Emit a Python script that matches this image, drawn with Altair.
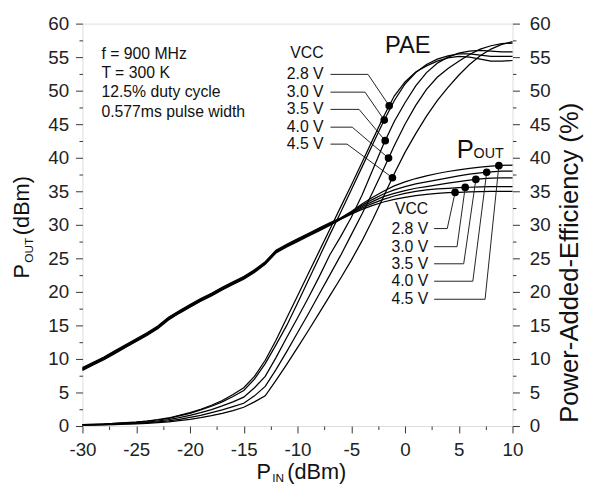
import altair as alt
import numpy as np
import pandas as pd

FONT = "Liberation Sans"

# ---------------- data ----------------
P_IN = list(range(-30, 11))
VCC = ["2.8 V", "3.0 V", "3.5 V", "4.0 V", "4.5 V"]

# P_OUT (dBm), linear part from -30 to -6 dBm (the five curves nearly coincide)
POUT_LIN_28 = [8.3, 9.1, 9.9, 10.8, 11.7, 12.6, 13.5, 14.5, 15.8, 16.8, 17.7, 18.6, 19.4,
               20.3, 21.1, 21.9, 22.9, 24.1, 25.8, 26.7, 27.5, 28.3, 29.1, 29.9, 30.8]
POUT_LIN_30 = [8.4, 9.2, 10.0, 10.9, 11.8, 12.7, 13.6, 14.6, 15.9, 16.9, 17.8, 18.7, 19.5,
               20.4, 21.2, 22.0, 23.0, 24.2, 25.9, 26.8, 27.6, 28.4, 29.2, 30.0, 30.85]
POUT_LIN_35 = [8.5, 9.3, 10.1, 11.0, 11.9, 12.8, 13.7, 14.7, 16.0, 17.0, 17.9, 18.8, 19.6,
               20.5, 21.3, 22.1, 23.1, 24.3, 26.0, 26.9, 27.7, 28.5, 29.3, 30.1, 30.9]
POUT_LIN_40 = [8.6, 9.4, 10.2, 11.1, 12.0, 12.9, 13.8, 14.8, 16.1, 17.1, 18.0, 18.9, 19.7,
               20.6, 21.4, 22.2, 23.2, 24.4, 26.1, 27.0, 27.8, 28.6, 29.4, 30.2, 30.95]
POUT_LIN_45 = [8.7, 9.5, 10.3, 11.2, 12.1, 13.0, 13.9, 14.9, 16.2, 17.2, 18.1, 19.0, 19.8,
               20.7, 21.5, 22.3, 23.3, 24.5, 26.2, 27.1, 27.9, 28.7, 29.5, 30.3, 31.0]
# P_OUT (dBm), compression part from -5 to 10 dBm
POUT_SAT_28 = [31.6, 32.3, 32.9, 33.4, 33.8, 34.1, 34.35, 34.55, 34.7, 34.8, 34.85, 34.9, 34.95, 35.0, 35.0, 35.0]
POUT_SAT_30 = [31.7, 32.5, 33.2, 33.8, 34.3, 34.7, 35.0, 35.2, 35.35, 35.45, 35.55, 35.6, 35.65, 35.7, 35.7, 35.7]
POUT_SAT_35 = [31.8, 32.7, 33.5, 34.2, 34.7, 35.1, 35.45, 35.7, 35.95, 36.2, 36.45, 36.65, 36.85, 36.95, 37.0, 37.0]
POUT_SAT_40 = [31.9, 32.9, 33.8, 34.6, 35.2, 35.7, 36.1, 36.4, 36.7, 37.0, 37.3, 37.55, 37.75, 37.9, 38.0, 38.0]
POUT_SAT_45 = [32.0, 33.1, 34.1, 35.0, 35.8, 36.4, 36.9, 37.3, 37.65, 37.95, 38.2, 38.4, 38.6, 38.75, 38.85, 38.9]

# PAE (%) from -30 to 10 dBm
PAE_28 = [0.2, 0.25, 0.3, 0.4, 0.5, 0.6, 0.75, 0.95, 1.2, 1.6, 2.0, 2.5, 3.1, 3.8, 4.7, 5.7, 7.4,
          9.8, 12.8, 16.1, 19.4, 22.7, 26.0, 29.3, 32.6, 35.9, 39.3, 42.7, 46.1, 49.2, 51.3,
          52.8, 53.7, 54.4, 54.9, 55.1, 55.0, 54.7, 54.4, 54.4, 54.5]
PAE_30 = [0.2, 0.25, 0.3, 0.38, 0.48, 0.58, 0.72, 0.9, 1.15, 1.5, 1.9, 2.4, 2.95, 3.6, 4.4, 5.3, 7.0,
          9.3, 12.1, 15.0, 18.3, 21.7, 25.1, 28.5, 31.8, 35.2, 38.6, 42.0, 45.4, 48.5, 51.0,
          52.7, 53.9, 54.7, 55.2, 55.5, 55.5, 55.3, 55.1, 55.1, 55.1]
PAE_35 = [0.18, 0.22, 0.27, 0.33, 0.4, 0.5, 0.6, 0.75, 0.95, 1.25, 1.6, 2.0, 2.45, 3.0, 3.6, 4.3, 5.7,
          7.4, 10.2, 13.2, 16.1, 19.1, 22.2, 25.5, 28.2, 31.1, 34.4, 38.2, 42.0, 45.4, 48.2,
          50.7, 52.7, 54.1, 55.0, 55.6, 55.9, 56.0, 55.9, 55.8, 55.8]
PAE_40 = [0.15, 0.18, 0.22, 0.27, 0.33, 0.4, 0.5, 0.62, 0.78, 1.0, 1.3, 1.6, 2.0, 2.4, 2.9, 3.4, 4.5,
          5.9, 8.4, 11.1, 13.9, 16.7, 19.6, 22.5, 25.4, 28.5, 31.6, 34.9, 38.3, 41.8, 45.0,
          47.8, 50.2, 52.0, 53.3, 54.4, 55.4, 56.2, 56.7, 57.0, 57.1]
PAE_45 = [0.12, 0.15, 0.18, 0.22, 0.27, 0.33, 0.4, 0.5, 0.63, 0.8, 1.0, 1.25, 1.55, 1.9, 2.3, 2.8, 3.6,
          4.5, 6.8, 9.2, 11.7, 14.2, 16.8, 19.4, 22.0, 24.7, 27.6, 30.8, 34.2, 37.6, 40.8,
          43.6, 46.2, 48.5, 50.5, 52.3, 53.9, 55.2, 56.2, 56.9, 57.3]

# marker positions (P_IN, dBm) on each curve
PAE_DOT_X = [-1.47, -1.93, -1.84, -1.53, -1.17]
POUT_DOT_X = [4.66, 5.6, 6.59, 7.6, 8.73]

INFO = ["f = 900 MHz", "T = 300 K", "12.5% duty cycle", "0.577ms pulse width"]

# ---------------- annotation layout (data units) ----------------
INFO_X = -28.24
INFO_Y = [55.44, 52.57, 49.85, 46.84]

TOP_LABEL_X = -7.57
TOP_VCC_Y = 55.66
TOP_LABEL_Y = [52.43, 49.78, 47.21, 44.56, 42.03]
TOP_LEAD_X0 = -6.93
TOP_BEND_X = [-3.44, -3.72, -4.27, -4.91, -5.39]

BOT_LABEL_X = 2.16
BOT_VCC_Y = 32.28
BOT_LABEL_Y = [29.44, 26.74, 24.19, 21.59, 18.90]
BOT_LEAD_X0 = 2.71
BOT_BEND_X = [3.93, 4.84, 5.46, 6.31, 7.45]

# ---------------- tables ----------------
pout_curves = [POUT_LIN_28 + POUT_SAT_28, POUT_LIN_30 + POUT_SAT_30, POUT_LIN_35 + POUT_SAT_35,
               POUT_LIN_40 + POUT_SAT_40, POUT_LIN_45 + POUT_SAT_45]
pae_curves = [PAE_28, PAE_30, PAE_35, PAE_40, PAE_45]


def long_table(curves):
    rows = []
    for v, c in zip(VCC, curves):
        for p, val in zip(P_IN, c):
            rows.append({"pin": p, "val": val, "vcc": v})
    return pd.DataFrame(rows)


pout_df = long_table(pout_curves)
pae_df = long_table(pae_curves)

pae_dots = pd.DataFrame({
    "pin": PAE_DOT_X,
    "val": [float(np.interp(x, P_IN, c)) for x, c in zip(PAE_DOT_X, pae_curves)],
})
pout_dots = pd.DataFrame({
    "pin": POUT_DOT_X,
    "val": [float(np.interp(x, P_IN, c)) for x, c in zip(POUT_DOT_X, pout_curves)],
})

lead_rows = []
for i, v in enumerate(VCC):
    pts = [(TOP_LEAD_X0, TOP_LABEL_Y[i]), (TOP_BEND_X[i], TOP_LABEL_Y[i]),
           (pae_dots.pin[i], pae_dots.val[i])]
    for k, (x, y) in enumerate(pts):
        lead_rows.append({"g": "pae" + v, "k": k, "pin": x, "val": y})
    pts = [(BOT_LEAD_X0, BOT_LABEL_Y[i]), (BOT_BEND_X[i], BOT_LABEL_Y[i]),
           (pout_dots.pin[i], pout_dots.val[i])]
    for k, (x, y) in enumerate(pts):
        lead_rows.append({"g": "pout" + v, "k": k, "pin": x, "val": y})
lead_df = pd.DataFrame(lead_rows)

label_df = pd.DataFrame(
    [{"pin": TOP_LABEL_X, "val": TOP_VCC_Y, "t": "VCC"}]
    + [{"pin": TOP_LABEL_X, "val": y, "t": v} for v, y in zip(VCC, TOP_LABEL_Y)]
    + [{"pin": BOT_LABEL_X, "val": BOT_VCC_Y, "t": "VCC"}]
    + [{"pin": BOT_LABEL_X, "val": y, "t": v} for v, y in zip(VCC, BOT_LABEL_Y)]
)
info_df = pd.DataFrame({"pin": [INFO_X] * 4, "val": INFO_Y, "t": INFO})

# ---------------- scales & axes ----------------
xscale = alt.Scale(domain=[-30, 10], nice=False, zero=False)
yscale = alt.Scale(domain=[0, 60], nice=False, zero=False)

AX_COMMON = dict(
    title=None, grid=False, domain=False, labelFont=FONT, labelFontSize=19,
    labelColor="#222", tickColor="#333", tickWidth=1, labelOverlap=False,
    labelFlush=False, labelBound=False,
    labelExpr="datum.value % 5 === 0 ? '' + datum.value : ''",
    tickSize={"condition": {"test": "datum.value % 5 !== 0", "value": 3.5}, "value": 7},
)
xaxis = alt.Axis(values=[float(v) for v in np.arange(-30, 10.01, 2.5)],
                 labelPadding=8, **AX_COMMON)
yaxis_l = alt.Axis(values=[float(v) for v in np.arange(0, 60.01, 2.5)],
                   orient="left", labelPadding=7, **AX_COMMON)
yaxis_r = alt.Axis(values=[float(v) for v in np.arange(0, 60.01, 2.5)],
                   orient="right", labelPadding=10, **AX_COMMON)

X = alt.X("pin:Q", scale=xscale, axis=xaxis)
YL = alt.Y("val:Q", scale=yscale, axis=yaxis_l)
YR = alt.Y("val:Q", scale=yscale, axis=yaxis_r)

# ---------------- left group (P_OUT) ----------------
pout_lines = alt.Chart(pout_df).mark_line(color="black", strokeWidth=1.25).encode(
    x=X, y=YL, detail="vcc:N")
pout_pts = alt.Chart(pout_dots).mark_circle(color="black", size=60, opacity=1).encode(x=X, y=YL)
leaders = alt.Chart(lead_df).mark_line(color="#222", strokeWidth=1).encode(
    x=X, y=YL, detail="g:N", order="k:Q")
labels = alt.Chart(label_df).mark_text(
    align="right", baseline="middle", font=FONT, fontSize=16, color="#111").encode(
    x=X, y=YL, text="t:N")
info = alt.Chart(info_df).mark_text(
    align="left", baseline="middle", font=FONT, fontSize=16, color="#111").encode(
    x=X, y=YL, text="t:N")


def txt(t, x, y, size, align="left", baseline="alphabetic", angle=0):
    d = pd.DataFrame({"pin": [x], "val": [y], "t": [t]})
    return alt.Chart(d).mark_text(
        align=align, baseline=baseline, font=FONT, fontSize=size, angle=angle,
        color="#111").encode(x=X, y=YL, text="t:N")


pae_label = txt("PAE", 0.26, 56.59, 24, align="center", baseline="middle")
pout_P = txt("P", 4.82, 39.93, 26)
pout_sub = txt("OUT", 6.38, 40.0, 14.5)

# axis titles built from text pieces (for subscripts)
ylt_P = txt("P", -34.95, 21.99, 22, angle=270)
ylt_sub = txt("OUT", -34.63, 24.34, 12, angle=270)
ylt_rest = txt("(dBm)", -34.95, 28.46, 22, angle=270)
xt_P = txt("P", -13.81, -7.95, 22)
xt_sub = txt("IN", -12.34, -8.38, 12)
xt_rest = txt("(dBm)", -10.96, -7.95, 22)
yrt = txt("Power-Added-Efficiency (%)", 16.10, 24.34, 26, align="center", angle=270)

left = alt.layer(pout_lines, leaders, pout_pts, labels, info, pae_label, pout_P, pout_sub,
                 ylt_P, ylt_sub, ylt_rest, xt_P, xt_sub, xt_rest, yrt)

# ---------------- right group (PAE) ----------------
pae_lines = alt.Chart(pae_df).mark_line(color="black", strokeWidth=1.25).encode(
    x=X, y=YR, detail="vcc:N")
pae_pts = alt.Chart(pae_dots).mark_circle(color="black", size=60, opacity=1).encode(x=X, y=YR)
right = alt.layer(pae_lines, pae_pts)

chart = alt.layer(left, right).resolve_scale(y="independent").properties(
    width=436, height=408,
    autosize=alt.AutoSizeParams(type="none"),
    padding={"left": 75.5, "top": 12.5, "right": 73.5, "bottom": 58.5},
).configure_view(stroke="#333", strokeWidth=1).configure(font=FONT, background="white")

chart.save("out.html", embed_options={"renderer": "svg", "actions": False})
